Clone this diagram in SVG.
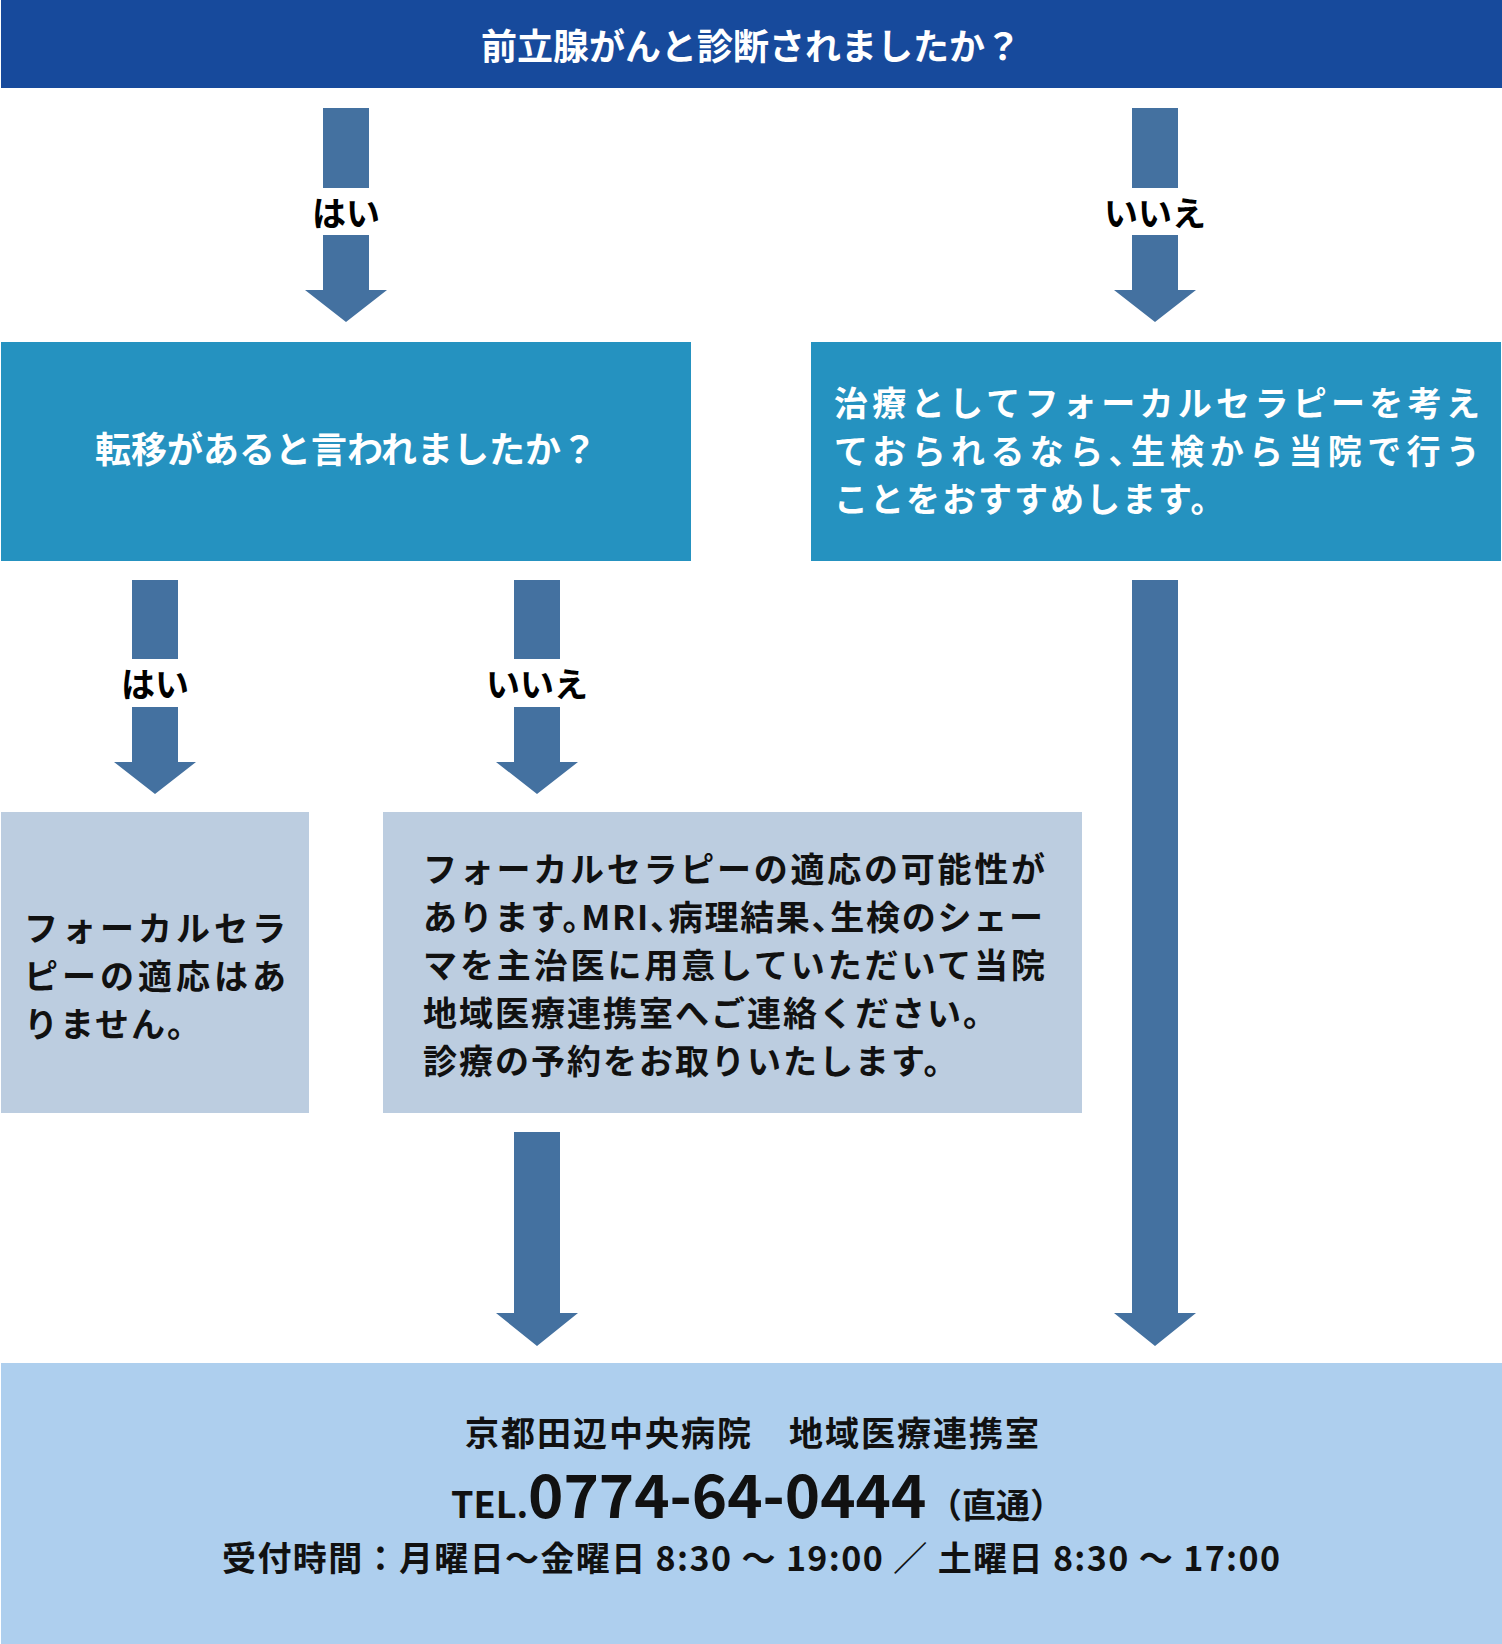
<svg xmlns="http://www.w3.org/2000/svg" width="1502" height="1644" viewBox="0 0 1502 1644">
<style>
.t{font-family:"Noto Sans CJK JP","Noto Sans CJK SC",sans-serif;font-weight:700}
.w{fill:#ffffff}
.k{fill:#111111}
.lbl{fill:#000000;font-size:34px;text-anchor:middle}
.arrow{fill:#4471a0}
.s34{font-size:34px}
.ls{letter-spacing:2px}
.halt{font-feature-settings:"halt"}
</style>
<rect width="1502" height="1644" fill="#ffffff"/>
<g id="q1">
<rect x="1" y="0" width="1501" height="88" fill="#174a9c"/>
<text class="t w" x="751" y="60" font-size="36" text-anchor="middle">前立腺がんと診断されましたか？</text>
</g>
<g id="q2">
<rect x="1" y="342" width="690" height="219" fill="#2592c0"/>
<text class="t w" x="346" y="463" font-size="36" text-anchor="middle">転移があると言われましたか？</text>
</g>
<g id="rec1">
<rect x="811" y="342" width="690" height="219" fill="#2592c0"/>
<text class="t w s34" x="834" y="416" textLength="646" lengthAdjust="spacing">治療としてフォーカルセラピーを考え</text>
<text class="t w s34 halt" x="834" y="464" textLength="646" lengthAdjust="spacing">ておられるなら、生検から当院で行う</text>
<text class="t w s34 ls" x="834" y="512">ことをおすすめします。</text>
</g>
<g id="res-yes">
<rect x="1" y="812" width="308" height="301" fill="#bccde0"/>
<text class="t k s34" x="24" y="941" textLength="262" lengthAdjust="spacing">フォーカルセラ</text>
<text class="t k s34" x="24" y="989" textLength="262" lengthAdjust="spacing">ピーの適応はあ</text>
<text class="t k s34 ls" x="24" y="1037">りません。</text>
</g>
<g id="res-no">
<rect x="383" y="812" width="699" height="301" fill="#bccde0"/>
<text class="t k s34" x="423" y="882" textLength="622" lengthAdjust="spacing">フォーカルセラピーの適応の可能性が</text>
<text class="t k s34 halt" x="423" y="930" textLength="620" lengthAdjust="spacing">あります。MRI、病理結果、生検のシェー</text>
<text class="t k s34" x="423" y="978" textLength="622" lengthAdjust="spacing">マを主治医に用意していただいて当院</text>
<text class="t k s34 ls" x="423" y="1026">地域医療連携室へご連絡ください。</text>
<text class="t k s34 ls" x="423" y="1074">診療の予約をお取りいたします。</text>
</g>
<g id="contact">
<rect x="1" y="1363" width="1501" height="281" fill="#aecfee"/>
<text class="t k s34 ls" x="753" y="1446" text-anchor="middle">京都田辺中央病院　地域医療連携室</text>
<text class="t k" x="451" y="1518" font-size="36">TEL.</text>
<text class="t k" x="528" y="1518" font-size="60">0774-64-0444</text>
<text class="t k" x="928" y="1518" font-size="34">（直通）</text>
<text class="t k s34" x="751" y="1571" text-anchor="middle" textLength="1058" lengthAdjust="spacing">受付時間：月曜日〜金曜日 8:30 〜 19:00 ／ 土曜日 8:30 〜 17:00</text>
</g>
<g id="connectors">
<rect class="arrow" x="323" y="108" width="46" height="80"/>
<polygon class="arrow" points="323,235 369,235 369,290 387,290 346,322 305,290 323,290"/>
<text class="t lbl" x="346" y="226">はい</text>
<rect class="arrow" x="1132" y="108" width="46" height="80"/>
<polygon class="arrow" points="1132,235 1178,235 1178,290 1196,290 1155,322 1114,290 1132,290"/>
<text class="t lbl" x="1155" y="226">いいえ</text>
<rect class="arrow" x="132" y="580" width="46" height="79"/>
<polygon class="arrow" points="132,707 178,707 178,762 196,762 155,794 114,762 132,762"/>
<text class="t lbl" x="155" y="697">はい</text>
<rect class="arrow" x="514" y="580" width="46" height="79"/>
<polygon class="arrow" points="514,707 560,707 560,762 578,762 537,794 496,762 514,762"/>
<text class="t lbl" x="537" y="697">いいえ</text>
<polygon class="arrow" points="514,1132 560,1132 560,1313 578,1313 537,1346 496,1313 514,1313"/>
<polygon class="arrow" points="1132,580 1178,580 1178,1313 1196,1313 1155,1346 1114,1313 1132,1313"/>
</g>
</svg>
